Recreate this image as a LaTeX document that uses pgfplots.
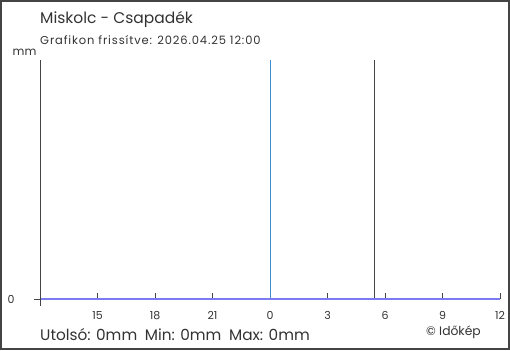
\documentclass[border=0pt]{standalone}
\usepackage{fontspec}
\setmainfont{Poppins}
\newfontfamily\subfont[LetterSpace=7.5]{Poppins}
\usepackage{pgfplots}
\pgfplotsset{compat=1.18}
\definecolor{frame}{HTML}{444444}
\definecolor{txt}{HTML}{333333}
\definecolor{series}{HTML}{7B7BF2}
\definecolor{nowline}{HTML}{3F8FD0}
\begin{document}
\begin{tikzpicture}[x=1pt,y=1pt]
\useasboundingbox (0,0) rectangle (510,350);
\fill[white] (0,0) rectangle (510,350);
\begin{axis}[
  at={(40pt,51pt)}, anchor=south west,
  scale only axis, width=460pt, height=239pt,
  xmin=0, xmax=24, ymin=0, ymax=1,
  axis x line=bottom, axis y line=left,
  axis line style={-, draw=frame, line width=0.8pt},
  x axis line style={draw=none},
  xtick={3,6,9,12,15,18,21,24},
  xticklabels={15,18,21,0,3,6,9,12},
  ytick={0}, yticklabels={0},
  tick align=outside,
  major tick length=6pt,
  tick style={draw=frame, line width=0.8pt},
  x tick style={yshift=6pt},
  ticklabel style={font=\fontsize{11}{12}\selectfont, text=txt},
  xticklabel style={yshift=-3pt},
  yticklabel style={xshift=-16pt},
  clip=false,
]
\addplot[nowline, line width=0.9pt] coordinates {(12,0) (12,1)};
\addplot[frame, line width=0.9pt] coordinates {(17.43,0) (17.43,1)};
\addplot[series, line width=2pt] coordinates {
(0,0) (1,0) (2,0) (3,0) (4,0) (5,0) (6,0) (7,0) (8,0) (9,0) (10,0) (11,0) (12,0)
(13,0) (14,0) (15,0) (16,0) (17,0) (18,0) (19,0) (20,0) (21,0) (22,0) (23,0) (24,0)};
\end{axis}
\draw[frame, line width=0.8pt] (40,44) -- (40,52);
\node[anchor=base west, inner sep=0, text=txt, font=\fontsize{15.5}{16}\selectfont] at (40,326) {Miskolc - Csapadék};
\node[anchor=base west, inner sep=0, text=txt, font=\subfont\fontsize{11.5}{12}\selectfont] at (40,305.7) {Grafikon frissítve: 2026.04.25 12:00};
\node[anchor=base west, inner sep=0, text=txt, font=\fontsize{11.5}{12}\selectfont] at (12.5,294.7) {mm};
\node[anchor=base west, inner sep=0, text=txt, font=\fontsize{15.3}{16}\selectfont] at (40,10) {Utolsó: 0mm\hspace{0.5em}Min: 0mm\hspace{0.5em}Max: 0mm};
\node[anchor=base west, inner sep=0, text=txt, font=\fontsize{12.3}{13}\selectfont] at (426,14.7) {© Időkép};
\draw[frame, line width=2pt] (1,1) rectangle (509,349);
\end{tikzpicture}
\end{document}
